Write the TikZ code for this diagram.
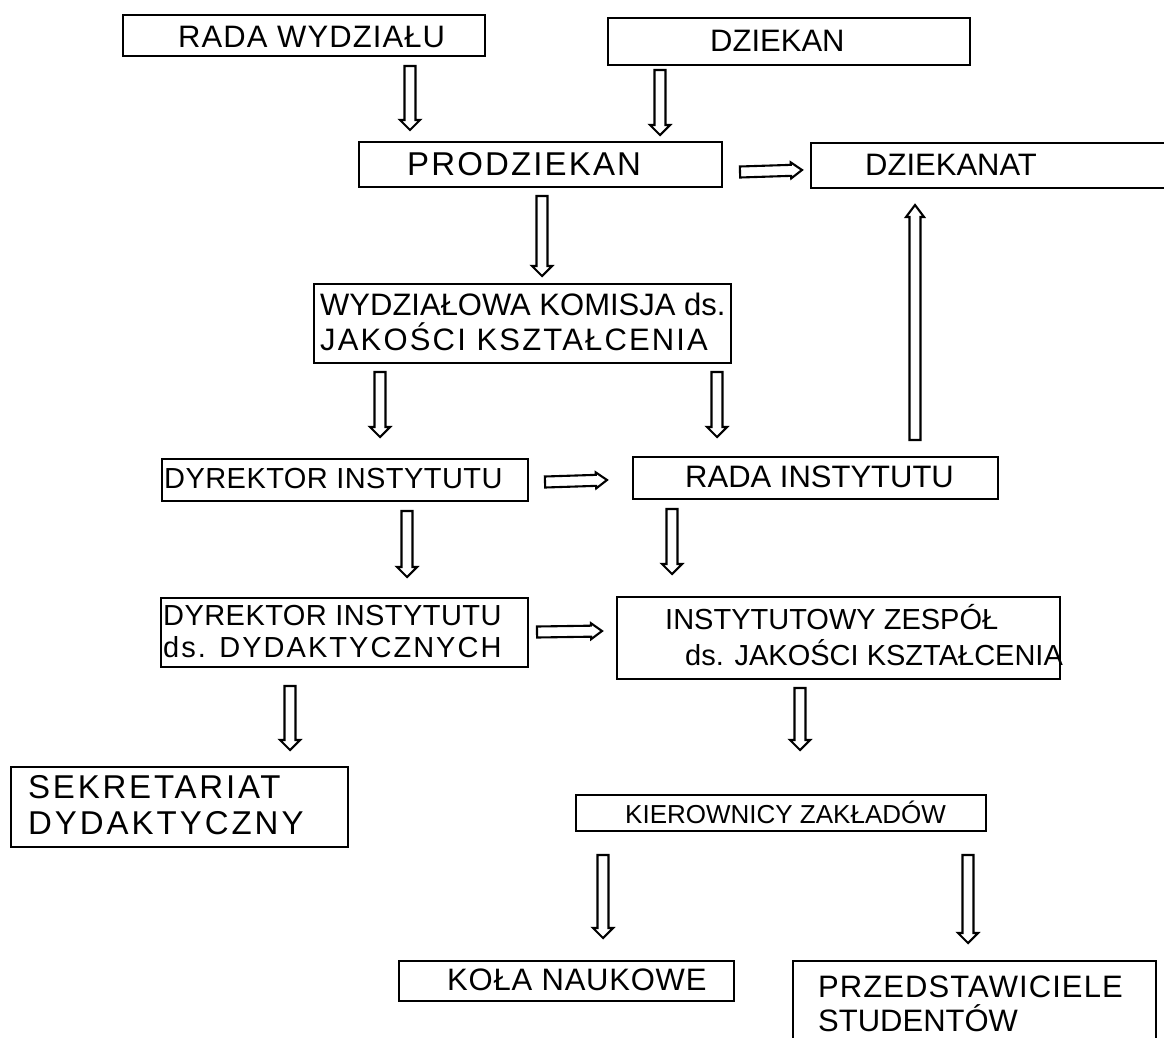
\documentclass[tikz,border=0pt]{standalone}
\usepackage{fontspec}
\setmainfont{Liberation Sans}
\usetikzlibrary{calc}
\tikzset{
  boxnode/.style={draw, line width=2.2pt, minimum width=#1, inner sep=0pt, anchor=north west},
  lbl/.style={anchor=west, inner sep=0pt, align=left},
  arrowline/.style={draw, line width=2.1pt, fill=white, line join=miter},
}
\newcommand\fs[2]{\fontsize{#1}{#2}\selectfont}
\newcommand\ls[1]{\addfontfeatures{LetterSpace=#1}}
\newcommand\hollowarrow[4]{%
  \coordinate (ha-h) at ($(#2)!#4!(#1)$);
  \draw[arrowline] ($(#1)!5.5pt!90:(#2)$) -- ($(ha-h)!5.5pt!-90:(#1)$) -- ($(ha-h)!#3!-90:(#1)$) -- (#2) -- ($(ha-h)!#3!90:(#1)$) -- ($(ha-h)!5.5pt!90:(#1)$) -- ($(#1)!5.5pt!-90:(#2)$) -- cycle;
}
\begin{document}
\begin{tikzpicture}[x=1pt,y=-1pt]
\useasboundingbox (0,0) rectangle (1164,1037);
\clip (0,0) rectangle (1164,1037);
\fill[white] (0,0) rectangle (1164,1037);
% boxes
\node[boxnode=362pt, minimum height=41pt] (rw) at (122,14) {};
\node[boxnode=362pt, minimum height=47pt] (dz) at (607,17) {};
\node[boxnode=363pt, minimum height=45pt] (pd) at (358,141) {};
\node[boxnode=370pt, minimum height=45pt] (dzt) at (810,142) {};
\node[boxnode=417pt, minimum height=79pt] (wk) at (313,283) {};
\node[boxnode=366pt, minimum height=42pt] (dyi) at (161,458) {};
\node[boxnode=365pt, minimum height=42pt] (ri) at (632,456) {};
\node[boxnode=367pt, minimum height=69pt] (dyd) at (160,597) {};
\node[boxnode=443pt, minimum height=82pt] (iz) at (616,596) {};
\node[boxnode=337pt, minimum height=80pt] (sd) at (10,766) {};
\node[boxnode=410pt, minimum height=36pt] (kz) at (575,794) {};
\node[boxnode=335pt, minimum height=40pt] (kn) at (398,960) {};
\node[boxnode=363pt, minimum height=100pt] (ps) at (792,960) {};
% texts
\node[lbl, font={\fs{31}{36}}] (rw-t) at (178,37) {{\ls{3.5}RADA WYDZIAŁU}};
\node[lbl, font={\fs{31}{36}}] (dz-t) at (710,41) {DZIEKAN};
\node[lbl, font={\fs{33}{38}}] (pd-t) at (407,164) {{\ls{6.5}PRODZIEKAN}};
\node[lbl, font={\fs{31}{36}}] (dzt-t) at (865,165) {DZIEKANAT};
\node[lbl, font={\fs{31}{35}}] (wk-t) at (320,322) {WYDZIAŁOWA KOMISJA ds.\\{\ls{7}JAKOŚCI KSZTAŁCENIA}};
\node[lbl, font={\fs{29}{33}}] (dyi-t) at (164,479) {{\ls{1.5}DYREKTOR INSTYTUTU}};
\node[lbl, font={\fs{31}{36}}] (ri-t) at (685,477) {RADA INSTYTUTU};
\node[lbl, font={\fs{29}{32}}] (dyd-t) at (163,632) {{\ls{1.5}DYREKTOR INSTYTUTU}\\{\ls{7}ds. DYDAKTYCZNYCH}};
\node[lbl, font={\fs{29}{36}}] (iz-t) at (665,635) {INSTYTUTOWY ZESPÓŁ\\\hspace*{20pt}ds. JAKOŚCI KSZTAŁCENIA};
\node[lbl, font={\fs{33}{36}}] (sd-t) at (28,805) {{\ls{8.5}SEKRETARIAT}\\{\ls{9}DYDAKTYCZNY}};
\node[lbl, font={\fs{26}{30}}] (kz-t) at (625,812) {KIEROWNICY ZAKŁADÓW};
\node[lbl, font={\fs{31}{36}}] (kn-t) at (447,980) {{\ls{2.5}KOŁA NAUKOWE}};
\node[lbl, font={\fs{31}{34}}] (ps-t) at (818,1004) {{\ls{3.5}PRZEDSTAWICIELE}\\STUDENTÓW};
% arrow end points
\coordinate (a1s) at (410,66);  \coordinate (a1e) at (410,130);
\coordinate (a2s) at (660,70);  \coordinate (a2e) at (660,135);
\coordinate (a3s) at (740,172); \coordinate (a3e) at (802,170);
\coordinate (a4s) at (542,196); \coordinate (a4e) at (542,276);
\coordinate (a5s) at (380,372); \coordinate (a5e) at (380,437);
\coordinate (a6s) at (717,372); \coordinate (a6e) at (717,437);
\coordinate (a7s) at (915,440); \coordinate (a7e) at (915,205);
\coordinate (a8s) at (545,482); \coordinate (a8e) at (607,480);
\coordinate (a9s) at (407,511); \coordinate (a9e) at (407,577);
\coordinate (a10s) at (672,509); \coordinate (a10e) at (672,574);
\coordinate (a11s) at (537,632); \coordinate (a11e) at (602,631);
\coordinate (a12s) at (290,686); \coordinate (a12e) at (290,750);
\coordinate (a13s) at (800,688); \coordinate (a13e) at (800,750);
\coordinate (a14s) at (603,855); \coordinate (a14e) at (603,938);
\coordinate (a15s) at (968,855); \coordinate (a15e) at (968,943);
% arrows
\hollowarrow{a1s}{a1e}{10pt}{10pt}
\hollowarrow{a2s}{a2e}{10pt}{10pt}
\hollowarrow{a3s}{a3e}{8pt}{11pt}
\hollowarrow{a4s}{a4e}{10pt}{10pt}
\hollowarrow{a5s}{a5e}{10pt}{10pt}
\hollowarrow{a6s}{a6e}{10pt}{10pt}
\hollowarrow{a7s}{a7e}{9pt}{12pt}
\hollowarrow{a8s}{a8e}{8pt}{11pt}
\hollowarrow{a9s}{a9e}{10pt}{10pt}
\hollowarrow{a10s}{a10e}{10pt}{10pt}
\hollowarrow{a11s}{a11e}{8pt}{11pt}
\hollowarrow{a12s}{a12e}{10pt}{10pt}
\hollowarrow{a13s}{a13e}{10pt}{10pt}
\hollowarrow{a14s}{a14e}{10pt}{10pt}
\hollowarrow{a15s}{a15e}{10pt}{10pt}
\end{tikzpicture}
\end{document}
